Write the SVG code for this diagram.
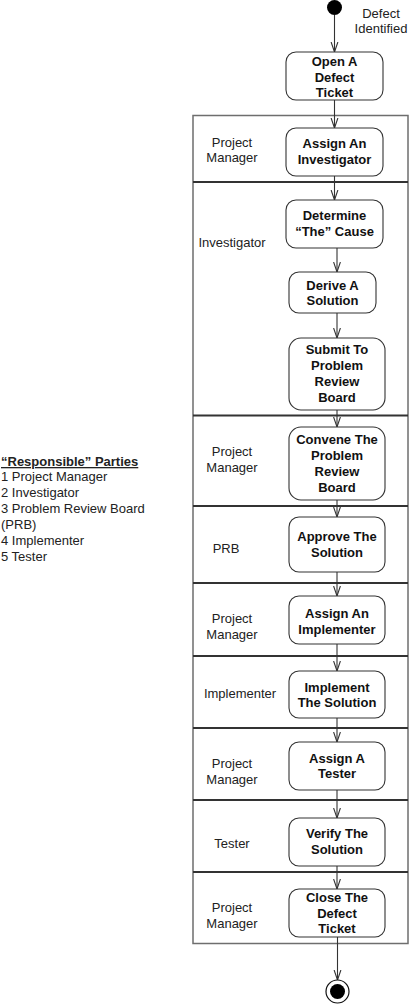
<svg xmlns="http://www.w3.org/2000/svg" width="410" height="1004" viewBox="0 0 410 1004">
<defs>
<marker id="arr" viewBox="0 0 10 10" refX="10" refY="5" markerWidth="10" markerHeight="10" markerUnits="userSpaceOnUse" orient="auto">
<path d="M0,1.6 L10,5 L0,8.4" fill="none" stroke="#333" stroke-width="1.1"/>
</marker>
</defs>
<style>
.node{fill:#fff;stroke:#333;stroke-width:1.1}
.nt{font-family:"Liberation Sans",Arial,sans-serif;font-size:13px;font-weight:bold;fill:#111;text-anchor:middle}
.lt{font-family:"Liberation Sans",Arial,sans-serif;font-size:13px;fill:#222;text-anchor:middle}
.lg{font-family:"Liberation Sans",Arial,sans-serif;font-size:13px;fill:#222}
.frame{fill:none;stroke:#6e6e6e;stroke-width:1.5}
.sep{stroke:#333;stroke-width:2}
.con{stroke:#333;stroke-width:1.1;fill:none;marker-end:url(#arr)}
</style>
<rect width="410" height="1004" fill="#fff"/>
<g id="swimlanes">
<rect class="frame" x="193" y="115.5" width="215" height="828"/>
<line class="sep" x1="193" y1="182" x2="408" y2="182"/>
<line class="sep" x1="193" y1="415.5" x2="408" y2="415.5"/>
<line class="sep" x1="193" y1="506" x2="408" y2="506"/>
<line class="sep" x1="193" y1="583" x2="408" y2="583"/>
<line class="sep" x1="193" y1="656" x2="408" y2="656"/>
<line class="sep" x1="193" y1="728" x2="408" y2="728"/>
<line class="sep" x1="193" y1="800" x2="408" y2="800"/>
<line class="sep" x1="193" y1="872" x2="408" y2="872"/>
<text class="lt" x="232" y="147">Project</text><text class="lt" x="232" y="162">Manager</text>
<text class="lt" x="232" y="247">Investigator</text>
<text class="lt" x="232" y="456">Project</text><text class="lt" x="232" y="472">Manager</text>
<text class="lt" x="226" y="553">PRB</text>
<text class="lt" x="232" y="623">Project</text><text class="lt" x="232" y="639">Manager</text>
<text class="lt" x="240" y="698">Implementer</text>
<text class="lt" x="232" y="768">Project</text><text class="lt" x="232" y="784">Manager</text>
<text class="lt" x="232" y="848">Tester</text>
<text class="lt" x="232" y="912">Project</text><text class="lt" x="232" y="928">Manager</text>
</g>
<g id="legend">
<text class="lg" x="1" y="466" font-weight="bold" text-decoration="underline">“Responsible” Parties</text>
<text class="lg" x="1" y="481">1 Project Manager</text>
<text class="lg" x="1" y="497">2 Investigator</text>
<text class="lg" x="1" y="513">3 Problem Review Board</text>
<text class="lg" x="1" y="529">(PRB)</text>
<text class="lg" x="1" y="545">4 Implementer</text>
<text class="lg" x="1" y="561">5 Tester</text>
</g>
<g id="connectors">
<line class="con" x1="334.5" y1="15" x2="334.5" y2="52"/>
<line class="con" x1="334.5" y1="100" x2="334.5" y2="128"/>
<line class="con" x1="334.5" y1="176" x2="334.5" y2="200"/>
<line class="con" x1="337" y1="248" x2="337" y2="272"/>
<line class="con" x1="337" y1="313" x2="337" y2="338"/>
<line class="con" x1="337" y1="410" x2="337" y2="427"/>
<line class="con" x1="337" y1="500" x2="337" y2="517"/>
<line class="con" x1="337" y1="572" x2="337" y2="596"/>
<line class="con" x1="337" y1="644" x2="337" y2="671"/>
<line class="con" x1="337" y1="718" x2="337" y2="742"/>
<line class="con" x1="337" y1="790" x2="337" y2="818"/>
<line class="con" x1="337" y1="866" x2="337" y2="889"/>
<line class="con" x1="337.5" y1="937" x2="337.5" y2="980"/>
</g>
<g id="start">
<circle cx="334.5" cy="7.5" r="7.5" fill="#000"/>
<text class="lt" x="381" y="18">Defect</text>
<text class="lt" x="381" y="33">Identified</text>
</g>
<g id="open-ticket">
<rect class="node" x="286" y="52" width="97" height="48" rx="10"/>
<text class="nt" x="334.5" y="66">Open A</text><text class="nt" x="334.5" y="81.5">Defect</text><text class="nt" x="334.5" y="97">Ticket</text>
</g>
<g id="assign-investigator">
<rect class="node" x="286" y="128" width="97" height="48" rx="10"/>
<text class="nt" x="334.5" y="148">Assign An</text><text class="nt" x="334.5" y="164">Investigator</text>
</g>
<g id="determine-cause">
<rect class="node" x="286" y="200" width="97" height="48" rx="10"/>
<text class="nt" x="334.5" y="220">Determine</text><text class="nt" x="334.5" y="236">“The” Cause</text>
</g>
<g id="derive-solution">
<rect class="node" x="289" y="272" width="87" height="41" rx="10"/>
<text class="nt" x="332.5" y="290">Derive A</text><text class="nt" x="332.5" y="305">Solution</text>
</g>
<g id="submit-prb">
<rect class="node" x="289" y="338" width="96" height="72" rx="12"/>
<text class="nt" x="337" y="354">Submit To</text><text class="nt" x="337" y="370">Problem</text><text class="nt" x="337" y="386">Review</text><text class="nt" x="337" y="402">Board</text>
</g>
<g id="convene-prb">
<rect class="node" x="289" y="427" width="96" height="73" rx="12"/>
<text class="nt" x="337" y="444">Convene The</text><text class="nt" x="337" y="460">Problem</text><text class="nt" x="337" y="476">Review</text><text class="nt" x="337" y="492">Board</text>
</g>
<g id="approve-solution">
<rect class="node" x="289" y="517" width="96" height="55" rx="10"/>
<text class="nt" x="337" y="541">Approve The</text><text class="nt" x="337" y="557">Solution</text>
</g>
<g id="assign-implementer">
<rect class="node" x="289" y="596" width="96" height="48" rx="10"/>
<text class="nt" x="337" y="618">Assign An</text><text class="nt" x="337" y="634">Implementer</text>
</g>
<g id="implement-solution">
<rect class="node" x="289" y="671" width="96" height="47" rx="10"/>
<text class="nt" x="337" y="692">Implement</text><text class="nt" x="337" y="707">The Solution</text>
</g>
<g id="assign-tester">
<rect class="node" x="289" y="742" width="96" height="48" rx="10"/>
<text class="nt" x="337" y="763">Assign A</text><text class="nt" x="337" y="778">Tester</text>
</g>
<g id="verify-solution">
<rect class="node" x="289" y="818" width="96" height="48" rx="10"/>
<text class="nt" x="337" y="838">Verify The</text><text class="nt" x="337" y="854">Solution</text>
</g>
<g id="close-ticket">
<rect class="node" x="289" y="889" width="96" height="48" rx="10"/>
<text class="nt" x="337" y="902">Close The</text><text class="nt" x="337" y="918">Defect</text><text class="nt" x="337" y="933">Ticket</text>
</g>
<g id="end">
<circle cx="337.5" cy="991.5" r="11.5" fill="#fff" stroke="#111" stroke-width="1.2"/>
<circle cx="337.5" cy="991.5" r="7.5" fill="#000"/>
</g>
</svg>
